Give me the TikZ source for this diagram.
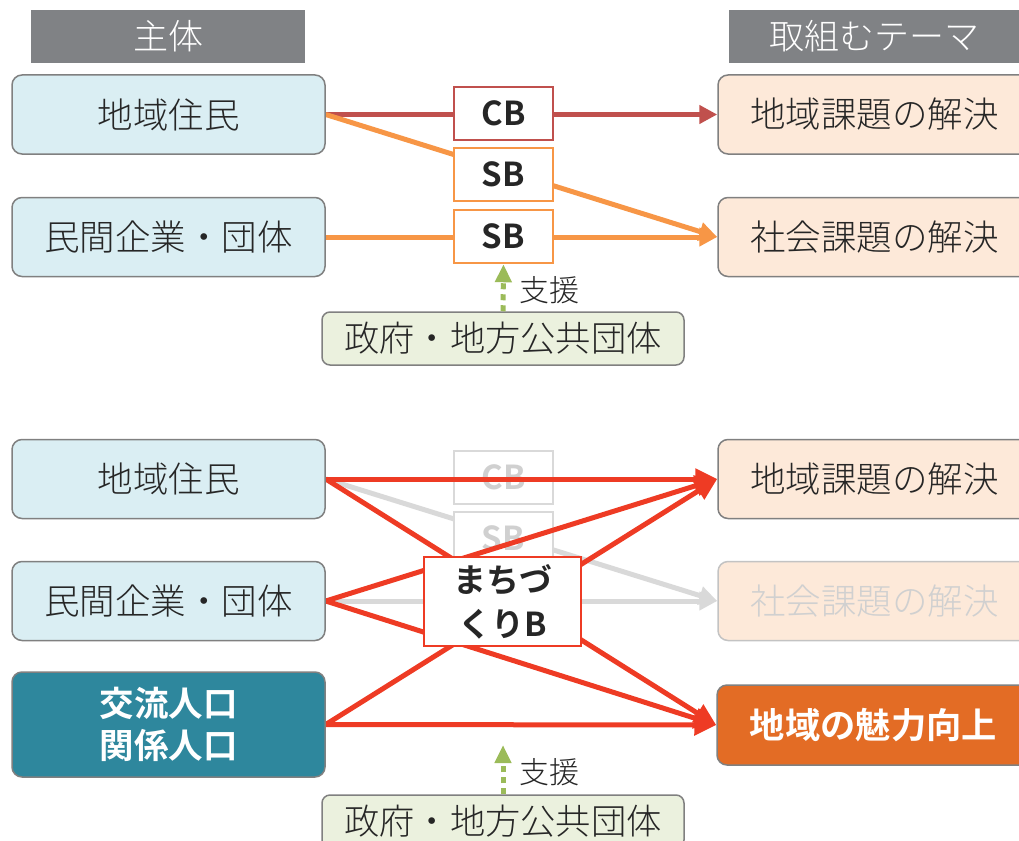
\documentclass[tikz,border=0pt]{standalone}
\usepackage{fontspec}
\setmainfont{Noto Sans CJK JP Light}[BoldFont={Noto Sans CJK JP Bold}]
\usetikzlibrary{arrows.meta}
\definecolor{hdrgray}{RGB}{128,130,133}
\definecolor{boxline}{RGB}{128,128,128}
\definecolor{lblue}{RGB}{218,238,243}
\definecolor{lpeach}{RGB}{253,233,217}
\definecolor{cbred}{RGB}{192,80,77}
\definecolor{sborange}{RGB}{247,150,70}
\definecolor{supgreen}{RGB}{155,187,89}
\definecolor{govgreen}{RGB}{235,241,222}
\definecolor{teal}{RGB}{46,135,157}
\definecolor{attract}{RGB}{227,108,37}
\definecolor{mred}{RGB}{238,59,36}
\definecolor{fadeline}{RGB}{217,217,217}
\definecolor{fadetext}{RGB}{208,208,208}
\definecolor{fadeborder}{RGB}{195,195,195}
\definecolor{txt}{RGB}{38,38,38}
\pgfdeclarelayer{bgzero}
\pgfdeclarelayer{bgone}
\pgfdeclarelayer{midl}
\pgfsetlayers{bgzero,bgone,midl,main}
\tikzset{
  hdr/.style={fill=hdrgray, draw=none, inner sep=0pt, text=white,
    font=\fontsize{35}{40}\selectfont},
  rbox/.style={rounded corners=10pt, draw=boxline, line width=1.5pt,
    minimum width=313pt, minimum height=79pt, inner sep=0pt, text=txt,
    font=\fontsize{35.5}{40}\selectfont},
  subj/.style={rbox, fill=lblue},
  theme/.style={rbox, fill=lpeach},
  midbox/.style={draw, fill=white, line width=2.5pt, minimum width=99pt,
    minimum height=53pt, inner sep=0pt, text=txt,
    font=\fontsize{33}{40}\selectfont\bfseries},
  govbox/.style={rounded corners=8pt, draw=boxline, line width=1.5pt,
    fill=govgreen, minimum width=362pt, minimum height=53pt, inner sep=0pt,
    text=txt, font=\fontsize{35.3}{40}\selectfont},
  suplbl/.style={text=txt, inner sep=0pt, font=\fontsize{30}{36}\selectfont},
  suparrow/.style={draw=supgreen, line width=5pt, dash pattern=on 6pt off 5pt,
    -{Triangle[length=18pt,width=16pt]}},
  tipA/.style={-{Triangle[length=18pt,width=18pt]}},
  cbline/.style={draw=cbred, line width=5pt, tipA},
  sbline/.style={draw=sborange, line width=5pt, tipA},
  redline/.style={draw=mred, line width=5pt, -{Triangle[length=22pt,width=20pt]}},
  fadeln/.style={draw=fadeline, line width=5pt, tipA},
  fadebox/.style={draw=fadeline, fill=white, line width=2.5pt, minimum width=99pt,
    minimum height=53pt, inner sep=0pt, text=fadetext,
    font=\fontsize{33}{40}\selectfont\bfseries}
}
\begin{document}
\begin{tikzpicture}[x=1pt,y=-1pt]
\useasboundingbox (0,0) rectangle (1019,840);
\clip (0,0) rectangle (1019,840);
% headers
\node[hdr, minimum width=274pt, minimum height=53pt] (h1) at (168,36.5) {主体};
\node[hdr, minimum width=290pt, minimum height=53pt] (h2) at (874,36.5) {取組むテーマ};
% top section
\node[subj] (l1) at (168.5,114.5) {地域住民};
\node[subj] (l2) at (168.5,237) {民間企業・団体};
\node[theme] (r1) at (874.5,114.5) {地域課題の解決};
\node[theme] (r2) at (874.5,237) {社会課題の解決};
\node[midbox, draw=cbred] (cb) at (503.5,113.5) {CB};
\node[midbox, draw=sborange] (sb1) at (503.5,174.5) {SB};
\node[midbox, draw=sborange] (sb2) at (503.5,236.5) {SB};
\node[govbox] (gov1) at (503,338.5) {政府・地方公共団体};
\node[suplbl, anchor=west] (sup1) at (519,290) {支援};
\begin{pgfonlayer}{bgzero}
\draw[cbline] (l1.east) -- (r1.west);
\draw[sbline] (l1.east) -- (r2.west);
\draw[sbline] (l2.east) -- (r2.west);
\end{pgfonlayer}
\draw[suparrow] (gov1.north) -- (sb2.south);
% bottom section
\node[subj] (l3) at (168.5,479) {地域住民};
\node[subj] (l4) at (168.5,601) {民間企業・団体};
\node[rbox, fill=teal, text=white, minimum height=105pt, align=center,
  font=\fontsize{34.5}{42}\selectfont\bfseries] (l5) at (168.5,724.5) {交流人口\\関係人口};
\node[theme] (r3) at (874.5,479) {地域課題の解決};
\node[theme, draw=fadeborder, text=fadetext] (r4) at (874.5,601) {社会課題の解決};
\node[rbox, fill=attract, text=white, minimum height=80pt,
  font=\fontsize{35.3}{40}\selectfont\bfseries] (r5) at (873.5,725) {地域の魅力向上};
\node[midbox, draw=mred, line width=2.5pt, minimum width=157pt, minimum height=89pt,
  align=center, font=\fontsize{33}{44}\selectfont\bfseries] (mb) at (502.5,601.5) {まちづ\\くりB};
\begin{pgfonlayer}{bgone}
\node[fadebox] (cbf) at (503.5,477.5) {CB};
\node[fadebox] (sbf) at (503.5,538.5) {SB};
\end{pgfonlayer}
\begin{pgfonlayer}{bgzero}
\draw[fadeln] (l3.east) -- (r4.west);
\draw[fadeln] (l4.east) -- (r4.west);
\end{pgfonlayer}
\begin{pgfonlayer}{midl}
\draw[redline] (l3.east) -- (r3.west);
\draw[redline] (l3.east) -- (r5.west);
\draw[redline] (l4.east) -- (r3.west);
\draw[redline] (l4.east) -- (r5.west);
\draw[redline] (l5.east) -- (r3.west);
\draw[redline] (l5.east) -- (r5.west);
\end{pgfonlayer}
\node[govbox] (gov2) at (503,821.5) {政府・地方公共団体};
\coordinate (sup2end) at (503,745);
\draw[suparrow] (gov2.north) -- (sup2end);
\node[suplbl, anchor=west] (sup2lbl) at (519,772) {支援};
\end{tikzpicture}
\end{document}
